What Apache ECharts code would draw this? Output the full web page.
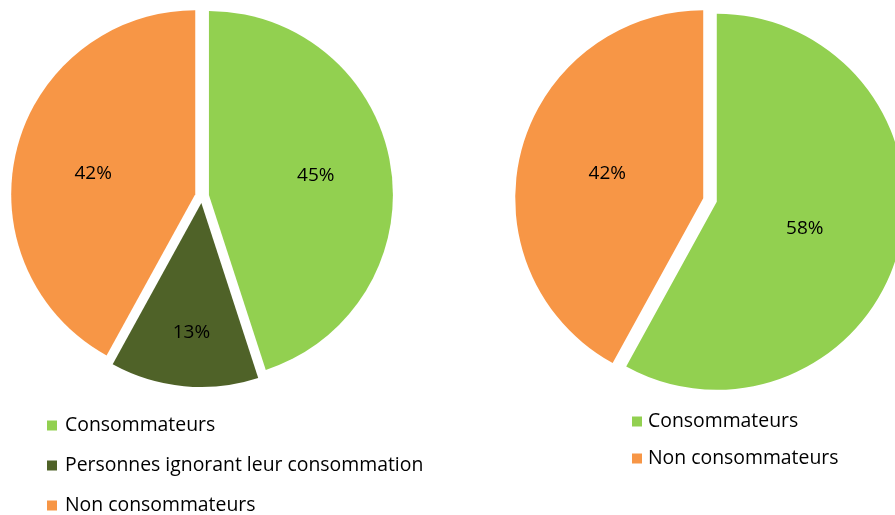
<!DOCTYPE html>
<html>
<head>
<meta charset="utf-8">
<script src="https://cdn.jsdelivr.net/npm/echarts@6/dist/echarts.min.js"></script>
<style>
  html, body { margin: 0; padding: 0; background: #fff; }
  #chart { width: 895px; height: 515px; }
</style>
</head>
<body>
<div id="chart"></div>
<script>
// left pie
var leftNames = ['Consommateurs', 'Personnes ignorant leur consommation', 'Non consommateurs'];
var leftValues = [45, 13, 42];
// right pie
var rightNames = ['Consommateurs', 'Non consommateurs'];
var rightValues = [58, 42];

var colors = {
    'Consommateurs': '#92D050',
    'Personnes ignorant leur consommation': '#4F6228',
    'Non consommateurs': '#F79646'
};
// nudges for the % labels, Excel puts them a bit off the mid radius
var leftLabelShift = [[13, -4], [-1, 35], [-10, 3]];
var rightLabelShift = [[-6, 3], [-2, -1]];

var FONT = '"Open Sans", Lato, sans-serif';

function buildData(names, values) {
    var out = [];
    for (var i = 0; i < names.length; i++) {
        out.push({
            name: names[i],
            value: values[i],
            selected: true,
            itemStyle: { color: colors[names[i]] }
        });
    }
    return out;
}

function pieSeries(names, values, shifts, center, radius) {
    return {
        type: 'pie',
        center: center,
        radius: radius,
        startAngle: 90,
        clockwise: true,
        selectedMode: 'multiple',
        selectedOffset: 7,
        avoidLabelOverlap: false,
        label: {
            show: true,
            position: 'inside',
            formatter: '{c}%',
            color: '#000',
            fontFamily: FONT,
            fontSize: 19
        },
        labelLayout: function(p) {
            var s = shifts[p.dataIndex];
            return { dx: s[0], dy: s[1] };
        },
        labelLine: { show: false },
        emphasis: { disabled: true },
        data: buildData(names, values)
    };
}

var chart = echarts.init(document.getElementById('chart'));
chart.setOption({
    animation: false,
    backgroundColor: '#fff',
    legend: [{
        data: leftNames,
        orient: 'vertical',
        left: 47,
        top: 416,
        padding: 0,
        itemWidth: 10,
        itemHeight: 10,
        itemGap: 21,
        icon: 'rect',
        selectedMode: false,
        textStyle: { color: '#000', fontFamily: FONT, fontSize: 19.4, padding: [0, 0, 0, 3] }
    }, {
        data: rightNames,
        orient: 'vertical',
        left: 632,
        top: 412,
        padding: 0,
        itemWidth: 10,
        itemHeight: 10,
        itemGap: 18,
        icon: 'rect',
        selectedMode: false,
        textStyle: { color: '#000', fontFamily: FONT, fontSize: 19.4, padding: [0, 0, 0, 1] }
    }],
    series: [
        pieSeries(leftNames, leftValues, leftLabelShift, [202, 196], 184),
        pieSeries(rightNames, rightValues, rightLabelShift, [710, 200], 188)
    ]
});
</script>
</body>
</html>
